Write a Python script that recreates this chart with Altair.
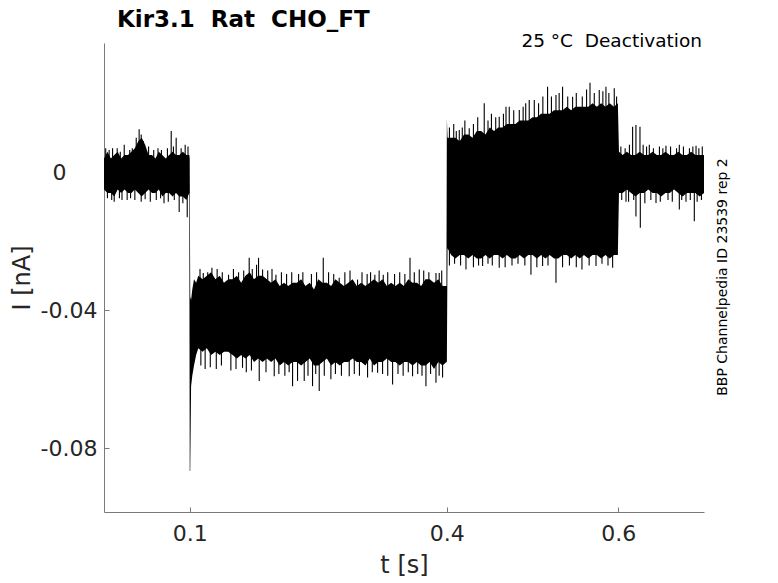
import altair as alt
import pandas as pd

# ---------------- data ----------------
# dense noise band of the current trace: time [s], upper and lower envelope [nA]
band_t = [
    0.000, 0.004, 0.008, 0.012, 0.016, 0.020, 0.024, 0.028, 0.032, 0.036,
    0.040, 0.044, 0.048, 0.052, 0.056, 0.060, 0.064, 0.068, 0.072, 0.076,
    0.080, 0.084, 0.088, 0.092, 0.096, 0.0995,
    0.1000, 0.1006, 0.1016, 0.1030, 0.1050, 0.1075,
    0.110, 0.115, 0.120, 0.125, 0.130, 0.135, 0.140, 0.145, 0.150, 0.155,
    0.160, 0.165, 0.170, 0.175, 0.180, 0.185, 0.190, 0.195, 0.200, 0.205,
    0.210, 0.215, 0.220, 0.225, 0.230, 0.235, 0.240, 0.245, 0.250, 0.255,
    0.260, 0.265, 0.270, 0.275, 0.280, 0.285, 0.290, 0.295, 0.300, 0.305,
    0.310, 0.315, 0.320, 0.325, 0.330, 0.335, 0.340, 0.345, 0.350, 0.355,
    0.360, 0.365, 0.370, 0.375, 0.380, 0.385, 0.390, 0.395, 0.3995,
    0.4000, 0.4008,
    0.405, 0.410, 0.415, 0.420, 0.425, 0.430, 0.435, 0.440, 0.445, 0.450,
    0.455, 0.460, 0.465, 0.470, 0.475, 0.480, 0.485, 0.490, 0.495, 0.500,
    0.505, 0.510, 0.515, 0.520, 0.525, 0.530, 0.535, 0.540, 0.545, 0.550,
    0.555, 0.560, 0.565, 0.570, 0.575, 0.580, 0.585, 0.590, 0.595, 0.5995,
    0.6008, 0.605, 0.610, 0.615, 0.620, 0.625, 0.630, 0.635, 0.640, 0.645,
    0.650, 0.655, 0.660, 0.665, 0.670, 0.675, 0.680, 0.685, 0.690, 0.695,
    0.700,
]
band_hi = [
    0.004, 0.006, 0.004, 0.005, 0.006, 0.004, 0.005, 0.005, 0.006, 0.007,
    0.009, 0.010, 0.008, 0.005, 0.005, 0.004, 0.006, 0.005, 0.004, 0.005,
    0.006, 0.005, 0.005, 0.006, 0.005, 0.005,
    0.004, -0.036, -0.037, -0.034, -0.031, -0.032,
    -0.030, -0.031, -0.030, -0.029, -0.031, -0.030, -0.032, -0.031, -0.031, -0.030,
    -0.032, -0.030, -0.029, -0.031, -0.030, -0.030, -0.031, -0.032, -0.031, -0.033,
    -0.032, -0.033, -0.032, -0.032, -0.031, -0.033, -0.032, -0.034, -0.031, -0.032,
    -0.032, -0.033, -0.031, -0.032, -0.033, -0.032, -0.031, -0.033, -0.032, -0.033,
    -0.032, -0.031, -0.032, -0.031, -0.033, -0.032, -0.033, -0.032, -0.033, -0.031,
    -0.032, -0.032, -0.033, -0.031, -0.031, -0.032, -0.031, -0.033, -0.033,
    0.0157, 0.010,
    0.010, 0.010, 0.009, 0.011, 0.011, 0.010, 0.012, 0.012, 0.011, 0.013,
    0.012, 0.013, 0.013, 0.014, 0.014, 0.014, 0.015, 0.015, 0.015, 0.016,
    0.016, 0.017, 0.017, 0.017, 0.018, 0.018, 0.018, 0.019, 0.018, 0.019,
    0.019, 0.019, 0.019, 0.020, 0.019, 0.020, 0.019, 0.020, 0.019, 0.020,
    0.006, 0.005, 0.006, 0.005, 0.005, 0.006, 0.005, 0.005, 0.006, 0.005,
    0.005, 0.006, 0.005, 0.005, 0.006, 0.005, 0.005, 0.006, 0.005, 0.005,
    0.005,
]
band_lo = [
    -0.005, -0.006, -0.006, -0.007, -0.005, -0.006, -0.005, -0.006, -0.006, -0.005,
    -0.006, -0.007, -0.006, -0.005, -0.006, -0.006, -0.005, -0.007, -0.006, -0.006,
    -0.007, -0.006, -0.007, -0.007, -0.008, -0.006,
    -0.0866, -0.0866, -0.062, -0.059, -0.056, -0.053,
    -0.051, -0.052, -0.051, -0.053, -0.052, -0.053, -0.052, -0.052, -0.053, -0.054,
    -0.053, -0.054, -0.053, -0.055, -0.054, -0.055, -0.054, -0.055, -0.054, -0.056,
    -0.055, -0.056, -0.055, -0.055, -0.056, -0.055, -0.054, -0.056, -0.056, -0.055,
    -0.054, -0.056, -0.055, -0.056, -0.055, -0.055, -0.054, -0.055, -0.055, -0.056,
    -0.054, -0.056, -0.055, -0.055, -0.054, -0.055, -0.055, -0.056, -0.055, -0.055,
    -0.056, -0.055, -0.056, -0.056, -0.055, -0.057, -0.055, -0.056, -0.055,
    -0.055, -0.022,
    -0.024, -0.025, -0.024, -0.024, -0.025, -0.024, -0.025, -0.025, -0.024, -0.025,
    -0.024, -0.024, -0.025, -0.024, -0.025, -0.025, -0.024, -0.025, -0.024, -0.024,
    -0.025, -0.024, -0.025, -0.024, -0.025, -0.025, -0.024, -0.024, -0.025, -0.024,
    -0.025, -0.024, -0.025, -0.024, -0.024, -0.025, -0.024, -0.025, -0.024, -0.024,
    -0.006, -0.006, -0.005, -0.006, -0.007, -0.006, -0.006, -0.005, -0.006, -0.006,
    -0.007, -0.006, -0.006, -0.005, -0.006, -0.007, -0.006, -0.006, -0.006, -0.007,
    -0.006,
]

# single noise spikes sticking out of the band: time [s], extreme value [nA]
spike_t_A = [0.0154, 0.0236, 0.0376, 0.0410, 0.0434, 0.0784, 0.0842, 0.0947,
             0.002, 0.006, 0.010, 0.019, 0.030, 0.033, 0.046, 0.052, 0.058,
             0.063, 0.067, 0.074, 0.081, 0.090, 0.098,
             0.0119, 0.0270, 0.0434, 0.0700, 0.0877, 0.0971,
             0.004, 0.009, 0.018, 0.021, 0.031, 0.036, 0.048, 0.054, 0.061,
             0.066, 0.075, 0.082, 0.092]
spike_v_A = [0.007, 0.008, 0.010, 0.0125, 0.011, 0.012, 0.010, 0.008,
             0.007, 0.0065, 0.007, 0.006, 0.0065, 0.007, 0.009, 0.0075, 0.0065,
             0.007, 0.0065, 0.007, 0.0075, 0.007, 0.0075,
             -0.0085, -0.008, -0.0085, -0.009, -0.0115, -0.013,
             -0.0075, -0.008, -0.0075, -0.008, -0.0075, -0.008, -0.0078, -0.0085, -0.008,
             -0.0075, -0.0085, -0.008, -0.009]
spike_t_B = [0.1158, 0.1259, 0.1453, 0.1694, 0.1780, 0.1803, 0.1850, 0.2006,
             0.2558, 0.2744, 0.2958, 0.3160, 0.3258, 0.3570, 0.3678, 0.3873,
             0.3911,
             0.112, 0.121, 0.132, 0.138, 0.151, 0.157, 0.163, 0.173, 0.191,
             0.196, 0.207, 0.213, 0.219, 0.227, 0.232, 0.242, 0.248, 0.262,
             0.268, 0.281, 0.287, 0.301, 0.307, 0.311, 0.321, 0.331, 0.339,
             0.345, 0.351, 0.362, 0.373, 0.379, 0.394,
             0.1616, 0.1811, 0.1986, 0.2200, 0.2258, 0.2336, 0.2433, 0.2511,
             0.2647, 0.2861, 0.3075, 0.3192, 0.3367, 0.3600, 0.3756, 0.3873,
             0.3950,
             0.113, 0.118, 0.124, 0.131, 0.137, 0.148, 0.154, 0.166, 0.172,
             0.189, 0.204, 0.211, 0.216, 0.238, 0.247, 0.257, 0.270, 0.277,
             0.292, 0.298, 0.313, 0.325, 0.331, 0.343, 0.349, 0.355, 0.366,
             0.371, 0.381, 0.391]
spike_v_B = [-0.0292, -0.0277, -0.0297, -0.0248, -0.0268, -0.0248, -0.0282, -0.0297,
             -0.0248, -0.0306, -0.0311, -0.0297, -0.0297, -0.0248, -0.0282, -0.0292,
             -0.0292,
             -0.028, -0.029, -0.028, -0.029, -0.028, -0.029, -0.0285, -0.028, -0.0285,
             -0.028, -0.029, -0.0295, -0.029, -0.0295, -0.029, -0.0295, -0.029, -0.029,
             -0.0295, -0.029, -0.0285, -0.029, -0.0295, -0.029, -0.0285, -0.029, -0.0295,
             -0.029, -0.0295, -0.029, -0.0285, -0.029, -0.0285,
             -0.0567, -0.0605, -0.0591, -0.0620, -0.0605, -0.0605, -0.0620, -0.0634,
             -0.0600, -0.0591, -0.0595, -0.0581, -0.0615, -0.0591, -0.0620, -0.0610,
             -0.0595,
             -0.056, -0.057, -0.0565, -0.057, -0.056, -0.0575, -0.057, -0.058, -0.0575,
             -0.058, -0.0585, -0.059, -0.058, -0.059, -0.0585, -0.059, -0.0585, -0.059,
             -0.0585, -0.059, -0.058, -0.0585, -0.059, -0.0585, -0.059, -0.058, -0.0585,
             -0.059, -0.0585, -0.059]
spike_t_C = [0.4145, 0.4261, 0.4436, 0.4611, 0.4728, 0.4845, 0.4961, 0.5175,
             0.5273, 0.5350, 0.5467, 0.5670, 0.5778, 0.5856, 0.5953,
             0.403, 0.408, 0.411, 0.418, 0.421, 0.431, 0.436, 0.448, 0.452,
             0.457, 0.466, 0.469, 0.478, 0.489, 0.492, 0.502, 0.507, 0.512,
             0.522, 0.531, 0.541, 0.551, 0.558, 0.563, 0.572, 0.582, 0.589, 0.598,
             0.4223, 0.4417, 0.4611, 0.4981, 0.5117, 0.5273, 0.5576, 0.5740,
             0.5934,
             0.403, 0.409, 0.416, 0.431, 0.437, 0.448, 0.453, 0.468, 0.476,
             0.483, 0.491, 0.505, 0.518, 0.535, 0.543, 0.551, 0.566, 0.581, 0.588]
spike_v_C = [0.0123, 0.0128, 0.0200, 0.0161, 0.0190, 0.0181, 0.0210, 0.0248,
             0.0224, 0.0248, 0.0219, 0.0260, 0.0239, 0.0248, 0.0244,
             0.013, 0.014, 0.012, 0.013, 0.015, 0.014, 0.016, 0.015, 0.017,
             0.016, 0.017, 0.019, 0.018, 0.019, 0.020, 0.021, 0.020, 0.022,
             0.022, 0.023, 0.022, 0.023, 0.022, 0.024, 0.023, 0.0235, 0.023, 0.022,
             -0.0282, -0.0272, -0.0277, -0.0297, -0.0272, -0.0320, -0.0282, -0.0272,
             -0.0277,
             -0.027, -0.0265, -0.027, -0.0275, -0.027, -0.0265, -0.027, -0.0275, -0.027,
             -0.0265, -0.027, -0.0275, -0.027, -0.0275, -0.027, -0.0275, -0.027, -0.0265,
             -0.027]
spike_t_D = [0.6167, 0.6206, 0.6253, 0.6362, 0.6556, 0.6712, 0.6907,
             0.603, 0.608, 0.613, 0.629, 0.633, 0.641, 0.648, 0.652, 0.661,
             0.668, 0.676, 0.683, 0.687, 0.694, 0.698,
             0.6090, 0.6206, 0.6257, 0.6440, 0.6712, 0.6887,
             0.604, 0.612, 0.618, 0.631, 0.638, 0.649, 0.658, 0.663, 0.674,
             0.679, 0.684, 0.692, 0.697]
spike_v_D = [0.0132, 0.0137, 0.0132, 0.0080, 0.0077, 0.0080, 0.0077,
             0.0075, 0.007, 0.008, 0.008, 0.0075, 0.007, 0.0075, 0.007, 0.0075,
             0.007, 0.0075, 0.007, 0.0075, 0.007, 0.0075,
             -0.0085, -0.0128, -0.0161, -0.0089, -0.0108, -0.0142,
             -0.008, -0.0085, -0.008, -0.009, -0.008, -0.0085, -0.008, -0.0085, -0.008,
             -0.0085, -0.008, -0.0085, -0.008]
# level of the trace in each protocol segment [nA]
segment_level = {"A": 0.0, "B": -0.043, "C": -0.003, "D": 0.0}

x_ticks = [0.1, 0.4, 0.6]
x_tick_labels = ["0.1", "0.4", "0.6"]
y_ticks = [0.0, -0.04, -0.08]
y_tick_labels = ["0", "-0.04", "-0.08"]

title_text = "Kir3.1\u00a0 Rat\u00a0 CHO_FT"
corner_text = "25 °C\u00a0 Deactivation"
side_text = "BBP Channelpedia ID 23539 rep 2"

# ---------------- tables ----------------
band = pd.DataFrame({"t": band_t, "hi": band_hi, "lo": band_lo})
spike_rows = []
for seg, ts, vs in [("A", spike_t_A, spike_v_A), ("B", spike_t_B, spike_v_B),
                    ("C", spike_t_C, spike_v_C), ("D", spike_t_D, spike_v_D)]:
    for t, v in zip(ts, vs):
        spike_rows.append({"t": t, "v": v, "base": segment_level[seg]})
spikes = pd.DataFrame(spike_rows)

FONT = "DejaVu Sans"
AX = "#7a7a7a"
TXT = "#262626"

xscale = alt.Scale(domain=[0, 0.7], nice=False, zero=False)
yscale = alt.Scale(domain=[-0.0985, 0.0375], nice=False, zero=False)

x_label_expr = " : ".join(
    [f"abs(datum.value - {v}) < 0.001 ? '{s}'" for v, s in zip(x_ticks, x_tick_labels)]
) + " : ''"
y_label_expr = " : ".join(
    [f"abs(datum.value - ({v})) < 0.001 ? '{s}'" for v, s in zip(y_ticks, y_tick_labels)]
) + " : ''"

band_layer = alt.Chart(band).mark_area(color="black", opacity=1, strokeWidth=0).encode(
    x=alt.X("t:Q", scale=xscale,
            axis=alt.Axis(values=x_ticks, labelExpr=x_label_expr, title="t [s]",
                          orient="bottom", ticks=False, tickSize=0, grid=False,
                          domainColor=AX, domainWidth=1, labelFontSize=22,
                          labelPadding=11, labelColor=TXT, titleFontSize=24,
                          titleColor=TXT, titleFontWeight="normal", titlePadding=9,
                          labelFont=FONT, titleFont=FONT)),
    y=alt.Y("hi:Q", scale=yscale,
            axis=alt.Axis(values=y_ticks, labelExpr=y_label_expr, title="I [nA]",
                          orient="left", ticks=False, tickSize=0, grid=False,
                          domainColor=AX, domainWidth=1, labelFontSize=22,
                          labelPadding={"condition": {"test": "abs(datum.value) < 0.001",
                                                      "value": 38},
                                        "value": 7},
                          labelColor=TXT, labelBaseline="middle",
                          titleFontSize=24, titleColor=TXT, titleFontWeight="normal",
                          titlePadding=6, labelFont=FONT, titleFont=FONT)),
    y2="lo:Q",
)

spike_layer = alt.Chart(spikes).mark_rule(color="black", strokeWidth=1.1).encode(
    x=alt.X("t:Q", scale=xscale,
            axis=alt.Axis(values=x_ticks, labels=False, domain=False, ticks=True,
                          tickSize=5, tickColor=AX, offset=-5, title=None,
                          grid=False, orient="bottom")),
    y=alt.Y("v:Q", scale=yscale,
            axis=alt.Axis(values=y_ticks, labels=False, domain=False, ticks=True,
                          tickSize=5, tickColor=AX, offset=-5, title=None,
                          grid=False, orient="left")),
    y2="base:Q",
)

title_layer = alt.Chart(pd.DataFrame({"label": [title_text]})).mark_text(
    align="left", baseline="alphabetic", fontSize=23, fontWeight="bold",
    font=FONT, color="black"
).encode(text="label:N", x=alt.value(13), y=alt.value(-16))

corner = alt.Chart(pd.DataFrame({"label": [corner_text]})).mark_text(
    align="right", baseline="alphabetic", fontSize=18.5, font=FONT, color="black"
).encode(text="label:N", x=alt.value(598), y=alt.value(4))

side = alt.Chart(pd.DataFrame({"label": [side_text]})).mark_text(
    align="center", baseline="middle", angle=270, fontSize=14, font=FONT, color="black"
).encode(text="label:N", x=alt.value(619), y=alt.value(234))

chart = alt.layer(band_layer, spike_layer, title_layer, corner, side).resolve_axis(
    x="independent", y="independent"
).properties(
    width=600,
    height=469,
    padding={"left": 96, "top": 35, "right": 66, "bottom": 71},
    autosize=alt.AutoSizeParams(type="none"),
).configure_view(strokeWidth=0)

chart.save("out.html", embed_options={"renderer": "svg", "actions": False})
